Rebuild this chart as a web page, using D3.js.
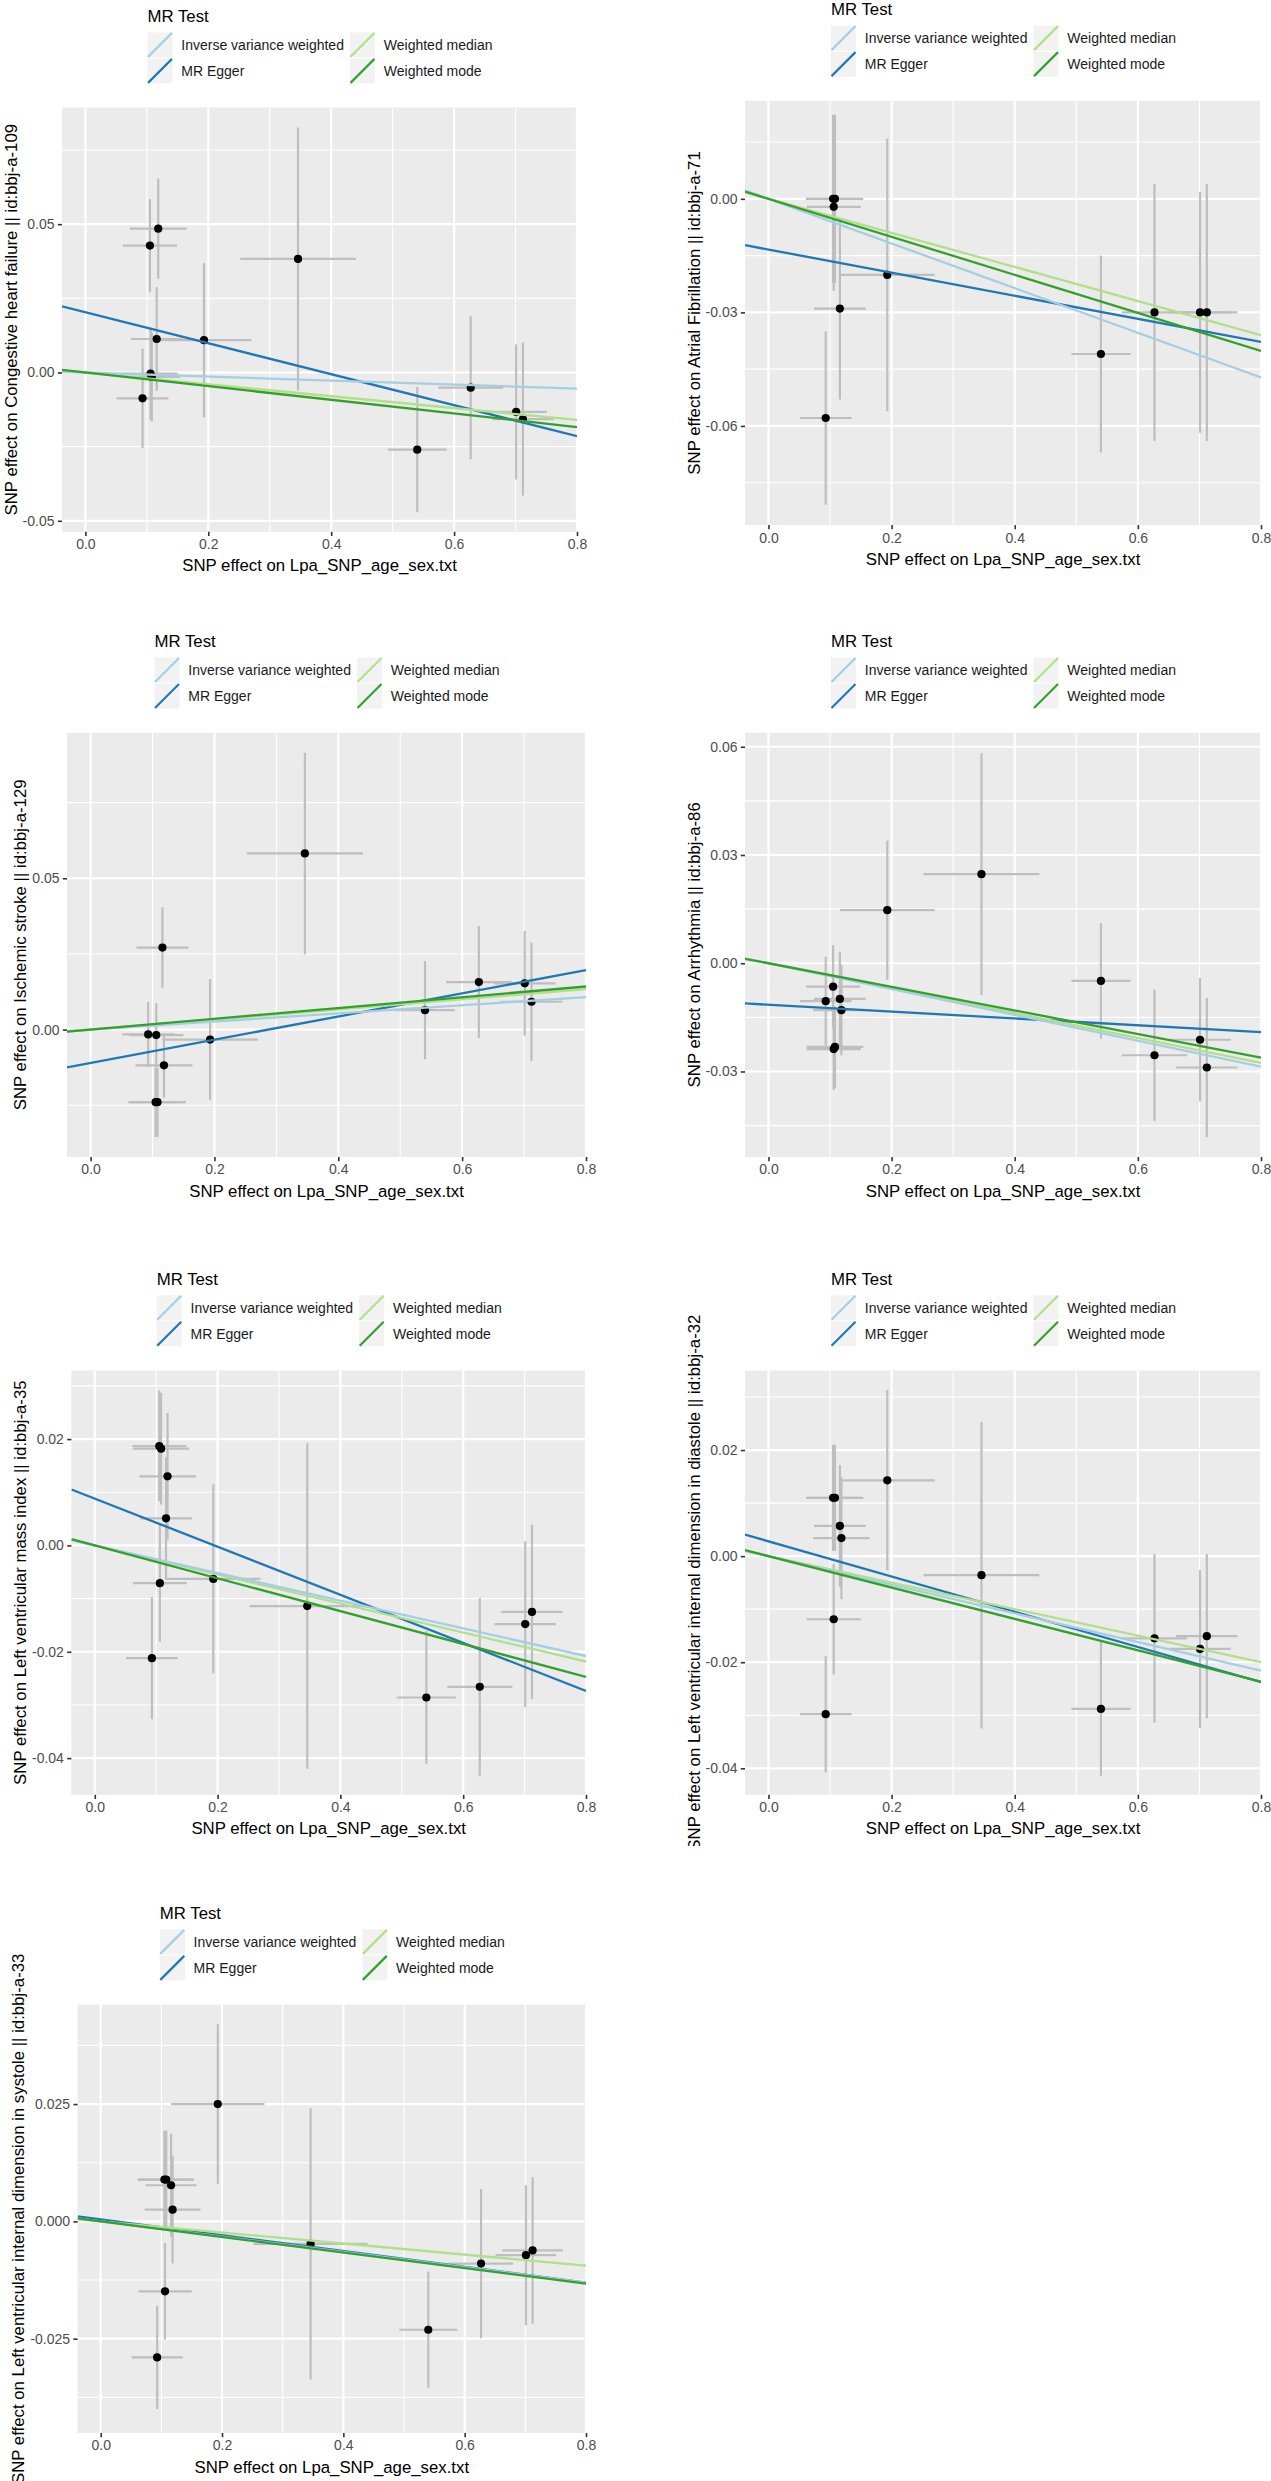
<!DOCTYPE html>
<html>
<head>
<meta charset="utf-8">
<script src="https://cdn.jsdelivr.net/npm/d3@7"></script>
<style>
  body { margin: 0; background: #fff; }
  text { font-family: "Liberation Sans", Arial, sans-serif; }
</style>
</head>
<body>
<svg width="1271" height="2481"></svg>
<script>
var svg = d3.select("svg");

/* SNP effects on the exposure (Lpa), shared by every panel */
var snpBx  = [0.093, 0.105, 0.106, 0.108, 0.116, 0.1185, 0.193, 0.346, 0.540, 0.627, 0.701, 0.712];
var snpSeX = [0.042, 0.044, 0.044, 0.046, 0.042, 0.046, 0.077, 0.094, 0.048, 0.053, 0.050, 0.050];

var outcomeLabels = [
  "Congestive heart failure || id:bbj-a-109",
  "Atrial Fibrillation || id:bbj-a-71",
  "Ischemic stroke || id:bbj-a-129",
  "Arrhythmia || id:bbj-a-86",
  "Left ventricular mass index || id:bbj-a-35",
  "Left ventricular internal dimension in diastole || id:bbj-a-32",
  "Left ventricular internal dimension in systole || id:bbj-a-33"
];

/* SNP effects on each outcome (null = SNP missing for that outcome) */
var chfBy   = [-0.0087, 0.0428, -0.0004, -0.0015, 0.0113, 0.0485, 0.0109, 0.0383, -0.0260, -0.0051, -0.0133, -0.0157];
var chfSe   = [0.0167, 0.0157, 0.0155, 0.0150, 0.0175, 0.0169, 0.0260, 0.0443, 0.0211, 0.0241, 0.0228, 0.0258];
var afBy    = [-0.0579, 0.0000, -0.0021, 0.0000, -0.0290, null, -0.0201, null, -0.0410, -0.0300, -0.0300, -0.0300];
var afSe    = [0.0229, 0.0222, 0.0222, 0.0222, 0.0240, null, 0.0360, null, 0.0260, 0.0340, 0.0318, 0.0340];
var isBy    = [-0.0016, -0.0240, -0.0018, -0.0240, 0.0271, -0.0118, -0.0033, 0.0582, 0.0064, 0.0157, 0.0153, 0.0092];
var isSe    = [0.0108, 0.0115, 0.0105, 0.0115, 0.0133, 0.0107, 0.0200, 0.0333, 0.0162, 0.0185, 0.0173, 0.0196];
var arrBy   = [-0.0105, -0.0065, -0.0238, -0.0232, -0.0099, -0.0130, 0.0147, 0.0247, -0.0049, -0.0255, -0.0212, -0.0289];
var arrSe   = [0.0123, 0.0115, 0.0113, 0.0113, 0.0131, 0.0125, 0.0193, 0.0335, 0.0160, 0.0182, 0.0171, 0.0193];
var lvmiBy  = [-0.0212, 0.0187, -0.0071, 0.0182, 0.0051, 0.0130, -0.0063, -0.0114, -0.0286, -0.0266, -0.0148, -0.0125];
var lvmiSe  = [0.0115, 0.0104, 0.0110, 0.0105, 0.0115, 0.0119, 0.0178, 0.0306, 0.0125, 0.0167, 0.0156, 0.0164];
var lviddBy = [-0.0298, 0.0110, -0.0119, 0.0110, 0.0057, 0.0034, 0.0143, -0.0036, -0.0288, -0.0155, -0.0175, -0.0151];
var lviddSe = [0.0110, 0.0100, 0.0104, 0.0100, 0.0115, 0.0115, 0.0170, 0.0289, 0.0127, 0.0159, 0.0149, 0.0155];
var lvidsBy = [-0.0290, 0.0089, -0.0149, 0.0089, 0.0077, 0.0025, 0.0250, -0.0048, -0.0231, -0.0090, -0.0072, -0.0062];
var lvidsSe = [0.0110, 0.0104, 0.0103, 0.0104, 0.0110, 0.0115, 0.0170, 0.0289, 0.0124, 0.0159, 0.0149, 0.0156];

var outcomeBy = [chfBy, afBy, isBy, arrBy, lvmiBy, lviddBy, lvidsBy];
var outcomeSe = [chfSe, afSe, isSe, arrSe, lvmiSe, lviddSe, lvidsSe];

/* MR estimates, one value per outcome */
var methodNames  = ["Inverse variance weighted", "MR Egger", "Weighted median", "Weighted mode"];
var methodColors = ["#a6cee3", "#1f78b4", "#b2df8a", "#33a02c"];
var ivwSlope       = [-0.0068, -0.0590, 0.0134, -0.0358, -0.0260, -0.0270, -0.0163];
var eggerSlope     = [-0.0522, -0.0305, 0.0383, -0.0095, -0.0452, -0.0332, -0.0168];
var eggerIntercept = [0.0203, -0.0134, -0.0110, -0.0115, 0.0088, 0.0028, 0.0004];
var wMedianSlope   = [-0.0200, -0.0450, 0.0167, -0.0345, -0.0273, -0.0250, -0.0118];
var wModeSlope     = [-0.0230, -0.0502, 0.0178, -0.0327, -0.0309, -0.0296, -0.0166];

/* axes */
var xLimits = [-0.0381, 0.8];
var xTicks = [0, 0.2, 0.4, 0.6, 0.8];
var xMinor = [0.1, 0.3, 0.5, 0.7];
var yLimits = [[-0.0537, 0.0893], [-0.0862, 0.0259], [-0.0421, 0.0981], [-0.0537, 0.0639],
               [-0.0469, 0.0329], [-0.0450, 0.0350], [-0.0451, 0.0462]];
var yTicks = [[-0.05, 0, 0.05], [-0.06, -0.03, 0], [0, 0.05], [-0.03, 0, 0.03, 0.06],
              [-0.04, -0.02, 0, 0.02], [-0.04, -0.02, 0, 0.02], [-0.025, 0, 0.025]];
var yDecimals = [2, 2, 2, 2, 2, 2, 3];

/* where each small plot sits on the page */
var frames = [
  {left: 62,   right: 577,  top: 107.6,  bottom: 531.8,  clip: [0, 0, 635, 620]},
  {left: 745,  right: 1261, top: 100.8,  bottom: 525.1,  clip: [635, 0, 636, 620]},
  {left: 67,   right: 586,  top: 732.7,  bottom: 1157,   clip: [0, 620, 635, 620]},
  {left: 745,  right: 1261, top: 732.7,  bottom: 1157,   clip: [635, 620, 636, 620]},
  {left: 71.4, right: 586,  top: 1370.5, bottom: 1794.8, clip: [0, 1240, 635, 606]},
  {left: 745,  right: 1261, top: 1370.5, bottom: 1794.8, clip: [635, 1240, 636, 606]},
  {left: 77.6, right: 586,  top: 2004.6, bottom: 2433,   clip: [0, 1860, 635, 621]}
];

var defs = svg.append("defs");
var drawOrder = [1, 2, 0, 3];

frames.forEach(function (f, i) {
  defs.append("clipPath").attr("id", "img" + i).append("rect")
    .attr("x", f.clip[0]).attr("y", f.clip[1]).attr("width", f.clip[2]).attr("height", f.clip[3]);
  defs.append("clipPath").attr("id", "plot" + i).append("rect")
    .attr("x", f.left).attr("y", f.top).attr("width", f.right - f.left).attr("height", f.bottom - f.top);

  var root = svg.append("g").attr("clip-path", "url(#img" + i + ")");
  var x = d3.scaleLinear().domain(xLimits).range([f.left, f.right]);
  var y = d3.scaleLinear().domain(yLimits[i]).range([f.bottom, f.top]);

  root.append("rect")
    .attr("x", f.left).attr("y", f.top)
    .attr("width", f.right - f.left).attr("height", f.bottom - f.top)
    .attr("fill", "#ebebeb");

  var plot = root.append("g").attr("clip-path", "url(#plot" + i + ")");

  // grid
  var ticks = yTicks[i];
  var step = ticks[1] - ticks[0];
  var yMinor = ticks.map(function (t) { return t - step / 2; });
  yMinor.push(ticks[ticks.length - 1] + step / 2);
  yMinor = yMinor.filter(function (t) { return t > yLimits[i][0] && t < yLimits[i][1]; });

  plot.selectAll(".xmin").data(xMinor).enter().append("line")
    .attr("x1", x).attr("x2", x).attr("y1", f.top).attr("y2", f.bottom)
    .attr("stroke", "#fff").attr("stroke-width", 1.1);
  plot.selectAll(".ymin").data(yMinor).enter().append("line")
    .attr("x1", f.left).attr("x2", f.right).attr("y1", y).attr("y2", y)
    .attr("stroke", "#fff").attr("stroke-width", 1.1);
  plot.selectAll(".xmaj").data(xTicks).enter().append("line")
    .attr("x1", x).attr("x2", x).attr("y1", f.top).attr("y2", f.bottom)
    .attr("stroke", "#fff").attr("stroke-width", 2.2);
  plot.selectAll(".ymaj").data(ticks).enter().append("line")
    .attr("x1", f.left).attr("x2", f.right).attr("y1", y).attr("y2", y)
    .attr("stroke", "#fff").attr("stroke-width", 2.2);

  // points with error bars
  var pts = [];
  outcomeBy[i].forEach(function (v, k) {
    if (v !== null) pts.push({bx: snpBx[k], sx: snpSeX[k], by: v, sy: outcomeSe[i][k]});
  });

  plot.selectAll(".ev").data(pts).enter().append("line")
    .attr("x1", function (d) { return x(d.bx); })
    .attr("x2", function (d) { return x(d.bx); })
    .attr("y1", function (d) { return y(d.by - d.sy); })
    .attr("y2", function (d) { return y(d.by + d.sy); })
    .attr("stroke", "#bebebe").attr("stroke-width", 2.2);
  plot.selectAll(".eh").data(pts).enter().append("line")
    .attr("x1", function (d) { return x(d.bx - d.sx); })
    .attr("x2", function (d) { return x(d.bx + d.sx); })
    .attr("y1", function (d) { return y(d.by); })
    .attr("y2", function (d) { return y(d.by); })
    .attr("stroke", "#bebebe").attr("stroke-width", 2.2);
  plot.selectAll(".pt").data(pts).enter().append("circle")
    .attr("cx", function (d) { return x(d.bx); })
    .attr("cy", function (d) { return y(d.by); })
    .attr("r", 4.1).attr("fill", "#000");

  // MR fit lines
  var fits = [
    {m: 0, a: 0, b: ivwSlope[i]},
    {m: 1, a: eggerIntercept[i], b: eggerSlope[i]},
    {m: 2, a: 0, b: wMedianSlope[i]},
    {m: 3, a: 0, b: wModeSlope[i]}
  ];
  drawOrder.forEach(function (m) {
    var ft = fits[m];
    plot.append("line")
      .attr("x1", x(xLimits[0])).attr("y1", y(ft.a + ft.b * xLimits[0]))
      .attr("x2", x(xLimits[1])).attr("y2", y(ft.a + ft.b * xLimits[1]))
      .attr("stroke", methodColors[ft.m]).attr("stroke-width", 2.3);
  });

  // axes
  var xAxis = root.append("g").attr("transform", "translate(0," + f.bottom + ")")
    .call(d3.axisBottom(x).tickValues(xTicks).tickFormat(d3.format(".1f")).tickSize(4.2).tickPadding(3.3));
  var yAxis = root.append("g").attr("transform", "translate(" + f.left + ",0)")
    .call(d3.axisLeft(y).tickValues(ticks)
      .tickFormat(function (d) { return d.toFixed(yDecimals[i]); }).tickSize(4.2).tickPadding(3.3));
  [xAxis, yAxis].forEach(function (a) {
    a.select(".domain").remove();
    a.attr("font-family", "Liberation Sans, Arial, sans-serif").attr("font-size", 14);
    a.selectAll("line").attr("stroke", "#333").attr("stroke-width", 1.6);
    a.selectAll("text").attr("fill", "#4d4d4d");
  });

  root.append("text")
    .attr("x", (f.left + f.right) / 2).attr("y", f.bottom + 39.5)
    .attr("text-anchor", "middle").attr("font-size", 16.8).attr("fill", "#000")
    .text("SNP effect on Lpa_SNP_age_sex.txt");

  // y title sits left of the widest tick label (bbox is in the axis group's own coordinates)
  var bb = yAxis.node().getBBox();
  var titleX = f.left + bb.x - 6;
  root.append("text")
    .attr("transform", "translate(" + titleX + "," + ((f.top + f.bottom) / 2) + ") rotate(-90)")
    .attr("text-anchor", "middle").attr("font-size", 16.8).attr("fill", "#000")
    .text("SNP effect on " + outcomeLabels[i]);

  // legend
  var lx = (f.left + f.right) / 2 - 172;
  var ky = f.top - 75.2;
  root.append("text").attr("x", lx).attr("y", ky - 10.7)
    .attr("font-size", 16.8).attr("fill", "#000").text("MR Test");
  methodNames.forEach(function (name, j) {
    var kx = lx + Math.floor(j / 2) * 202.5;
    var kyy = ky + (j % 2) * 26;
    root.append("rect").attr("x", kx).attr("y", kyy).attr("width", 25).attr("height", 25)
      .attr("fill", "#f2f2f2");
    root.append("line")
      .attr("x1", kx + 0.5).attr("y1", kyy + 24.5).attr("x2", kx + 24.5).attr("y2", kyy + 0.5)
      .attr("stroke", methodColors[j]).attr("stroke-width", 2.2);
    root.append("text").attr("x", kx + 33.8).attr("y", kyy + 17.5)
      .attr("font-size", 14).attr("fill", "#1a1a1a").text(name);
  });
});
</script>
</body>
</html>
